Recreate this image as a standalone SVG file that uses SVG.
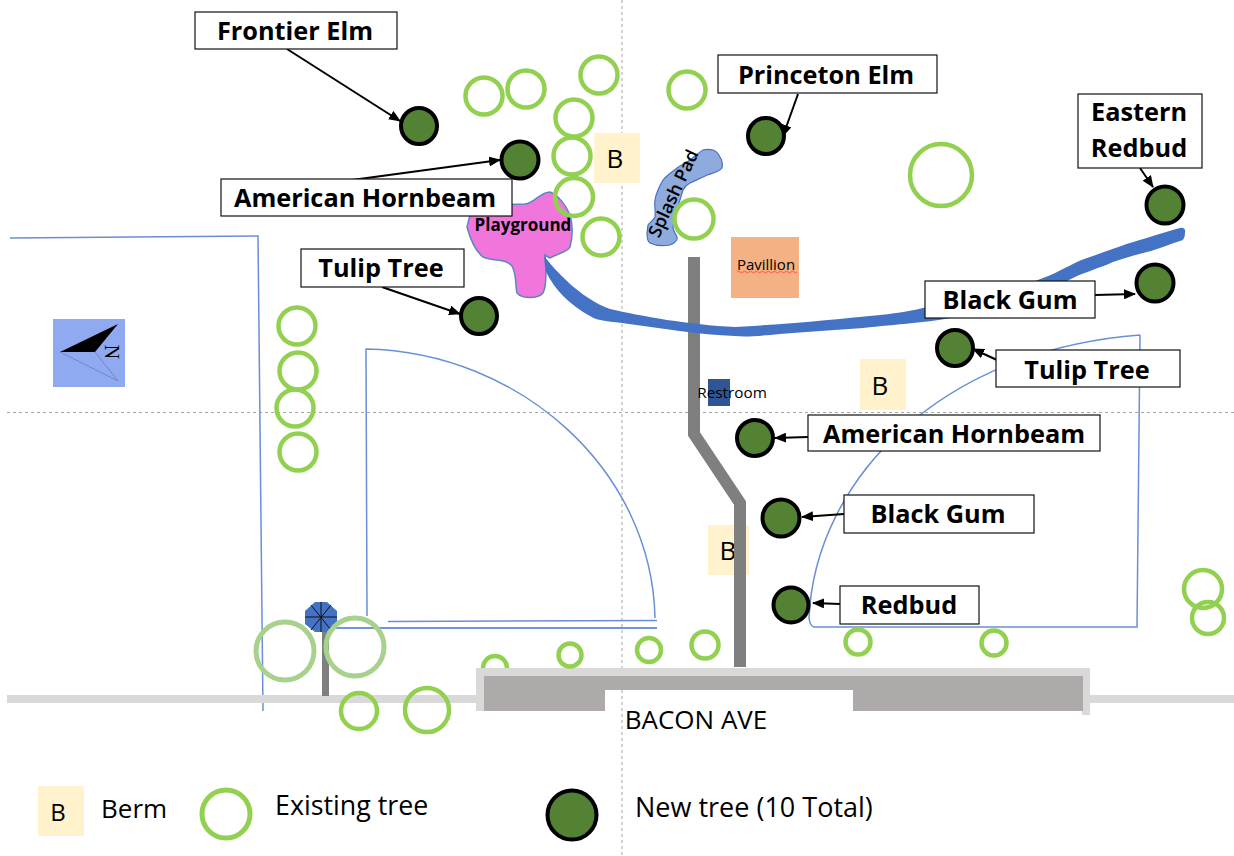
<svg xmlns="http://www.w3.org/2000/svg" width="1234" height="856" viewBox="0 0 1234 856">
<style>
.ex{fill:none;stroke:#92d050;stroke-width:4.5}
.ex2{fill:none;stroke:#a9d18e;stroke-width:5}
.nw{fill:#548235;stroke:#000;stroke-width:4}
.fld{fill:none;stroke:#6a8fd8;stroke-width:1.5}
.lb rect{fill:#fff;stroke:#111;stroke-width:1.2}
.lb text{font:bold 25.3px "Open Sans","Liberation Sans",sans-serif;fill:#000;text-anchor:middle}
.sm{font-family:"Open Sans","Liberation Sans",sans-serif;fill:#000}
.berm{fill:#fff2cc}
.cn{fill:none;stroke:#000;stroke-width:2;marker-end:url(#ah)}
.path{fill:none;stroke:#7f7f7f;stroke-linejoin:miter}
</style>
<defs>
<marker id="ah" markerUnits="userSpaceOnUse" markerWidth="12" markerHeight="10" refX="11" refY="5" orient="auto"><path d="M0 0L12 5L0 10z" fill="#000"/></marker>
</defs>
<rect width="1234" height="856" fill="#fff"/>
<g id="grid" stroke="#a6a6a6" stroke-width="1" stroke-dasharray="3 3" fill="none">
<path d="M622 0V856"/><path d="M7 412.500H1234"/>
</g>
<g id="fields">
<path class="fld" d="M10 238L258 236L263 711"/>
<path class="fld" d="M367 616L366 349C520 352 652 470 655 618"/>
<path class="fld" d="M388 621.500L657 620.500"/>
<path class="fld" style="stroke:#4472c4" d="M333 628H657"/>
<path class="fld" d="M1140 335L1137 627H814Q810 626 809 618C815 480 940 350 1140 335"/>
</g>
<g id="road">
<rect x="7" y="695" width="470" height="8" fill="#d9d9d9"/>
<rect x="1090" y="695" width="144" height="8" fill="#d9d9d9"/>
<path d="M476 668H1090V715H1082V676H484V711H476z" fill="#d9d9d9"/>
<path d="M484 676H1083V711H853V690H605V711H484z" fill="#aeaaaa"/>
<text class="sm" x="696" y="729" font-size="26" text-anchor="middle">BACON AVE</text>
</g>
<g id="paths">
<path class="path" stroke-width="12" d="M694 257V434L740 503V667"/>
<rect x="322" y="632" width="7" height="64" fill="#7f7f7f"/>
</g>
<g id="berm1"><rect class="berm" x="594" y="133" width="46" height="50"/><text class="sm" x="615" y="168" font-size="26" text-anchor="middle">B</text></g>
<g id="berm2"><rect class="berm" x="860" y="359" width="46" height="51"/><text class="sm" x="880" y="395" font-size="26" text-anchor="middle">B</text></g>
<g id="berm3"><rect class="berm" x="708" y="525" width="41" height="50"/><text class="sm" x="728" y="560" font-size="26" text-anchor="middle">B</text></g>
<path class="path" stroke-width="12" d="M740 503V575"/>
<g id="playground">
<path d="M467 227C470 238 474 250 483 257C495 262 505 258 512 266C517 275 515 285 517 293C522 299 538 299 543 293C547 285 546 270 545 255L550 258C556 254 568 252 570 247C573 235 573 225 570 215C566 205 558 195 550 192C540 192 535 203 525 204C510 204 480 205 470 215z" fill="#f076dc" stroke="#5b86c4" stroke-width="1.500"/>
<path d="M544 256C555 270 580 298 610 309C640 316 690 325 735 327C790 324 840 319 880 315C900 313 915 310 923 308C970 298 1010 292 1043 278C1060 272 1070 264 1087 258C1105 252 1120 246 1130 243C1150 237 1165 232 1180 228Q1186 227 1185 233Q1185 240 1180 241C1165 246 1155 250 1147 252C1135 255 1125 258 1113 262C1100 268 1085 272 1073 278C1050 290 1000 305 957 317C940 320 925 322 913 323C895 325 880 326 863 328C835 330 805 332 780 334C760 336 745 337 735 336C700 335 660 328 622 323C605 321 595 320 590 316C570 305 555 290 546 272z" fill="#4472c4"/>
<text class="sm" x="523" y="231" font-size="17" font-weight="bold" text-anchor="middle">Playground</text>
</g>
<g id="splash-pad">
<path d="M647 233C647 238 648 242 650 243C656 246 664 246 670 245C675 243 678 240 677 237C675 233 673 230 673 227C675 215 680 200 683 190C685 186 688 184 690 183C696 180 702 178 707 175C713 173 719 172 722 168C723 163 722 160 720 157C718 153 716 151 713 150C709 149 706 149 703 150C698 153 694 157 690 160C686 163 681 165 677 168C672 172 666 176 663 180C659 187 656 193 655 200C654 206 656 212 655 217C653 221 650 222 648 225z" fill="#8faadc" stroke="#4472c4" stroke-width="1.200"/>
<text class="sm" transform="translate(679 196) rotate(-65)" font-size="18" text-anchor="middle" font-weight="600">Splash Pad</text>
</g>
<g id="pavillion">
<rect x="731" y="237" width="68" height="61" fill="#f4b183"/>
<text class="sm" x="766" y="270" font-size="15" text-anchor="middle">Pavillion</text>
<path d="M737 272q1.500 -1.500 3 0t3 0t3 0t3 0t3 0t3 0t3 0t3 0t3 0t3 0t3 0t3 0t3 0t3 0t3 0t3 0t3 0t3 0t3 0t3 0" fill="none" stroke="#ff4040" stroke-width="0.800"/>
</g>
<g id="restroom">
<rect x="708" y="379" width="22" height="27" fill="#2f5597"/>
<text class="sm" x="732" y="398" font-size="15.300" text-anchor="middle">Restroom</text>
</g>
<g id="compass">
<rect x="53" y="319" width="72" height="68" fill="#8faaf0"/>
<path d="M60 352L118 324L95 352z" fill="#000"/>
<path d="M60 352L118 381L95 352" fill="none" stroke="#6680b0" stroke-width="0.800"/>
<text transform="translate(105 352) rotate(90)" font-family="Liberation Serif,serif" font-size="20" text-anchor="middle" fill="#000">N</text>
</g>
<g id="light">
<path d="M315 602H327L337 611V624L327 632H315L305 624V611z" fill="#4472c4"/>
<path d="M321 602V632M305 617H337M311 605L331 630M331 605L311 630" stroke="#111" stroke-width="1"/>
</g>
<g id="existing-trees">
<circle class="ex" cx="484" cy="96" r="18.500"/><circle class="ex" cx="526" cy="89" r="18.500"/><circle class="ex" cx="599" cy="75" r="18.500"/>
<circle class="ex" cx="574" cy="118" r="18.500"/><circle class="ex" cx="572" cy="156" r="18.500"/><circle class="ex" cx="574" cy="197" r="19"/>
<circle class="ex" cx="601" cy="237" r="18.500"/><circle class="ex" cx="687" cy="90" r="18.500"/><circle class="ex" cx="694" cy="219" r="19.500"/>
<circle class="ex" cx="941" cy="175" r="31"/>
<circle class="ex" cx="297" cy="326" r="18.500"/><circle class="ex" cx="298" cy="371" r="18.500"/><circle class="ex" cx="295" cy="408" r="18.500"/><circle class="ex" cx="298" cy="452" r="18.500"/>
<circle class="ex2" cx="285" cy="651" r="29"/><circle class="ex2" cx="355" cy="647" r="29"/>
<circle class="ex" cx="359" cy="711" r="18"/><circle class="ex" cx="427" cy="710" r="22"/>
<path class="ex" d="M483 668A12 12 0 1 1 507 668"/>
<circle class="ex" cx="570" cy="655" r="11.500"/><circle class="ex" cx="649" cy="650" r="12"/><circle class="ex" cx="705" cy="645" r="13.500"/>
<circle class="ex" cx="858" cy="642" r="12.500"/><circle class="ex" cx="994" cy="643" r="12.500"/>
<circle class="ex" cx="1203" cy="589" r="19"/><circle class="ex" cx="1208" cy="618" r="16"/>
</g>
<g id="connectors">
<path class="cn" d="M287 49L400 121"/>
<path class="cn" d="M352 180L500 160"/>
<path class="cn" d="M382 287L460 314"/>
<path class="cn" d="M798 94L783 136"/>
<path class="cn" d="M1140 168L1153 187"/>
<path class="cn" d="M1095 295L1135 294"/>
<path class="cn" d="M997 360L973 349"/>
<path class="cn" d="M808 437L775 438"/>
<path class="cn" d="M844 514L802 517"/>
<path class="cn" d="M840 604L813 603"/>
</g>
<g id="new-trees">
<circle class="nw" cx="419" cy="126" r="18"/><circle class="nw" cx="520" cy="160" r="18.500"/><circle class="nw" cx="479" cy="316" r="18"/>
<circle class="nw" cx="766" cy="136" r="18"/><circle class="nw" cx="1165" cy="205" r="18.500"/><circle class="nw" cx="1155" cy="283" r="18.500"/>
<circle class="nw" cx="955" cy="348" r="18"/><circle class="nw" cx="755" cy="438" r="18"/><circle class="nw" cx="781" cy="518" r="18.500"/><circle class="nw" cx="791" cy="605" r="17.500"/>
</g>
<g id="lb-frontier-elm" class="lb"><rect x="195" y="12" width="202" height="37"/><text x="295" y="39.700">Frontier Elm</text></g>
<g id="lb-princeton-elm" class="lb"><rect x="718" y="55" width="219" height="38"/><text x="826" y="83.700">Princeton Elm</text></g>
<g id="lb-eastern-redbud" class="lb"><rect x="1078" y="94" width="124" height="74"/><text x="1139" y="120.700">Eastern</text><text x="1139" y="156.700">Redbud</text></g>
<g id="lb-american-hornbeam-1" class="lb"><rect x="221" y="179" width="291" height="37"/><text x="365" y="206.700">American Hornbeam</text></g>
<g id="lb-tulip-tree-1" class="lb"><rect x="301" y="249" width="163" height="38"/><text x="381" y="276.700">Tulip Tree</text></g>
<g id="lb-black-gum-1" class="lb"><rect x="925" y="281" width="170" height="37"/><text x="1010" y="308.700">Black Gum</text></g>
<g id="lb-tulip-tree-2" class="lb"><rect x="996" y="350" width="184" height="37"/><text x="1087" y="378.700">Tulip Tree</text></g>
<g id="lb-american-hornbeam-2" class="lb"><rect x="808" y="415" width="292" height="36"/><text x="954" y="442.700">American Hornbeam</text></g>
<g id="lb-black-gum-2" class="lb"><rect x="844" y="495" width="190" height="38"/><text x="938" y="522.700">Black Gum</text></g>
<g id="lb-redbud" class="lb"><rect x="840" y="586" width="139" height="38"/><text x="909" y="613.700">Redbud</text></g>
<g id="legend">
<rect class="berm" x="38" y="786" width="46" height="50"/><text class="sm" x="58" y="821" font-size="24" text-anchor="middle">B</text>
<text class="sm" x="101" y="818" font-size="26">Berm</text>
<circle class="ex" cx="226" cy="814" r="24" style="stroke-width:5"/>
<text class="sm" x="275" y="815" font-size="26.800">Existing tree</text>
<circle class="nw" cx="572" cy="815" r="24.500"/>
<text class="sm" x="635" y="817" font-size="27">New tree (10 Total)</text>
</g>
</svg>
